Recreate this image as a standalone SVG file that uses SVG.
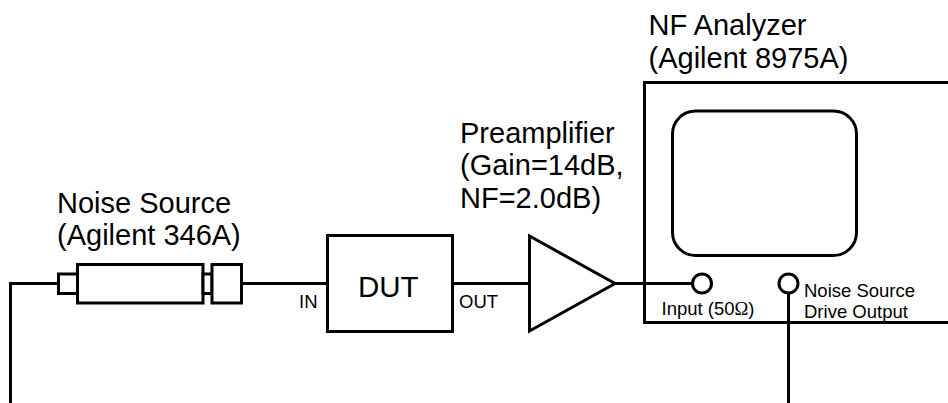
<svg xmlns="http://www.w3.org/2000/svg" width="948" height="403" viewBox="0 0 948 403">
<style>
.s{fill:#fff;stroke:#000;stroke-width:3}
.c{fill:none;stroke:#000;stroke-width:3}
text{font-family:"Liberation Sans",Arial,sans-serif;fill:#000}
.l{font-size:29px}
.m{font-size:18.500px}
.d{font-size:29.500px}
</style>
<rect width="948" height="403" fill="#fff"/>
<g id="connectors">
<path class="c" d="M10.500 403V283.500H58"/>
<path class="c" d="M242 283.500H327"/>
<path class="c" d="M453 283.500H529"/>
<path class="c" d="M615 283.500H692"/>
<path class="c" d="M788.500 293V403"/>
</g>
<g id="analyzer">
<path class="c" d="M948 82.500H644.500V322.500H948"/>
<rect class="c" x="672.500" y="111" width="184" height="144.500" rx="23"/>
<text class="l" x="648.500" y="35">NF Analyzer</text>
<text class="l" x="648.500" y="67.500">(Agilent 8975A)</text>
</g>
<g id="input-port">
<circle class="s" cx="702" cy="283.500" r="9.500"/>
<text class="m" x="661.500" y="315">Input (50<tspan font-family="'Liberation Serif',serif">Ω</tspan>)</text>
</g>
<g id="drive-port">
<circle class="s" cx="788.500" cy="283.500" r="9.500"/>
<text class="m" x="804" y="297">Noise Source</text>
<text class="m" x="804" y="318">Drive Output</text>
</g>
<g id="noise-source">
<rect class="s" x="58.500" y="274" width="19" height="19.500"/>
<rect class="s" x="77.500" y="264.500" width="125.500" height="38.500"/>
<rect class="s" x="203" y="274" width="9" height="19.500"/>
<rect class="s" x="212" y="264.500" width="29.500" height="38.500"/>
<text class="l" x="57" y="213">Noise Source</text>
<text class="l" x="57" y="245">(Agilent 346A)</text>
</g>
<g id="dut">
<rect class="s" x="327.500" y="235.500" width="125" height="96"/>
<text class="d" x="358" y="297">DUT</text>
<text class="m" x="299" y="308">IN</text>
<text class="m" x="459" y="308">OUT</text>
</g>
<g id="preamplifier">
<path class="s" d="M529.500 236V331L615 283.500Z"/>
<text class="l" x="460" y="143">Preamplifier</text>
<text class="l" x="460" y="175">(Gain=14dB,</text>
<text class="l" x="460" y="208">NF=2.0dB)</text>
</g>
</svg>
